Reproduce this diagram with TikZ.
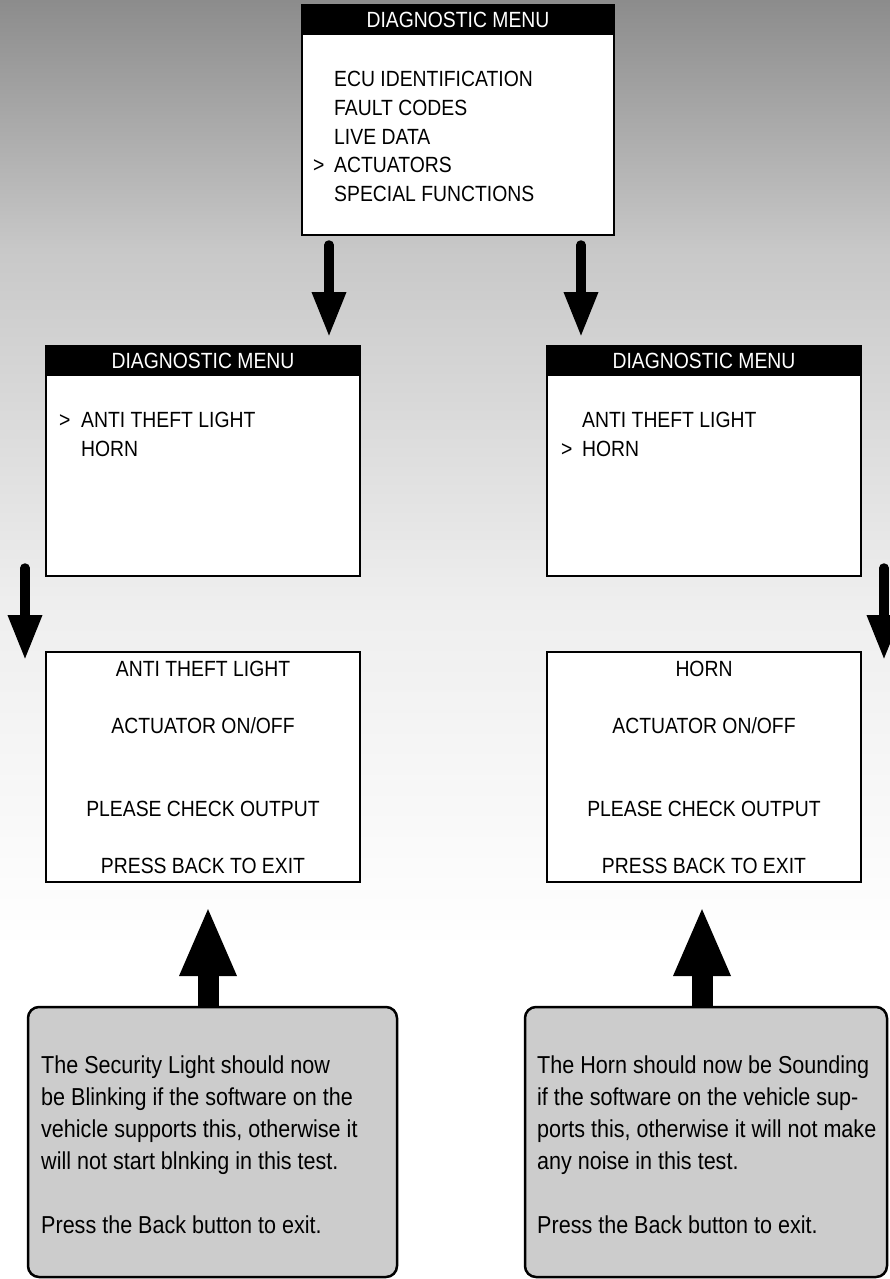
\documentclass[tikz,border=0pt]{standalone}
\usepackage{fontspec}
\setmainfont{Liberation Sans}[FakeStretch=0.88]
\usetikzlibrary{arrows.meta, calc}

\definecolor{bgA}{HTML}{8C8C8C}
\definecolor{bgB}{HTML}{C8C8C8}
\definecolor{bgC}{HTML}{EEEEEE}
\definecolor{notegray}{HTML}{CCCCCC}

\newcommand{\menufont}{\fontsize{22}{28.5}\selectfont}
\newcommand{\notefont}{\fontsize{24.5}{32}\selectfont}

\tikzset{
  screen/.style={draw, line width=2.5pt, fill=white, anchor=north west, inner sep=0pt, outer sep=0pt, minimum width=314pt, minimum height=230pt},
  titlebar/.style={fill=black, text=white, anchor=north, inner sep=0pt, outer sep=0pt, minimum width=314pt, minimum height=30pt, font=\menufont},
  menuline/.style={anchor=base west, inner sep=0pt, font=\menufont},
  centreline/.style={anchor=base, inner sep=0pt, font=\menufont},
  note/.style={draw, line width=2.5pt, fill=notegray, rounded corners=11pt, anchor=north west, inner sep=0pt, outer sep=0pt, minimum height=270pt},
  notetext/.style={anchor=north west, inner sep=0pt, align=left, font=\notefont},
  downarrow/.style={line width=9.5pt, line cap=round, -{Triangle[width=32pt,length=45pt]}},
  uparrow/.style={line width=21pt, -{Triangle[width=52pt,length=70pt]}},
}

\begin{document}
\begin{tikzpicture}[x=1pt, y=-1pt]
  \useasboundingbox (0,0) rectangle (890,1279);
  \clip (0,0) rectangle (890,1279);
  % background
  \shade[top color=bgA, bottom color=bgB] (0,0) rectangle (890,250);
  \shade[top color=bgB, bottom color=bgC] (0,249) rectangle (890,600);
  \shade[top color=bgC, bottom color=white] (0,599) rectangle (890,950);
  \fill[white] (0,949) rectangle (890,1279);

  % main menu
  \node[screen, minimum width=312pt] (menu) at (302,5) {};
  \node[titlebar, minimum width=312pt] (menutitle) at (menu.north) {DIAGNOSTIC MENU};
  \foreach \entry [count=\i] in {ECU IDENTIFICATION, FAULT CODES, LIVE DATA, ACTUATORS, SPECIAL FUNCTIONS}
    \node[menuline] (item\i) at ($(menu.north west)+(32,53.5+28.5*\i)$) {\entry};
  \node[menuline] (cursor) at ($(item4.base west)+(-21,0)$) {>};

  % actuator menus
  \node[screen] (selA) at (46,346) {};
  \node[titlebar] (selAtitle) at (selA.north) {DIAGNOSTIC MENU};
  \node[menuline] (selAlight) at ($(selA.north west)+(35,81)$) {ANTI THEFT LIGHT};
  \node[menuline] (selAhorn) at ($(selA.north west)+(35,110)$) {HORN};
  \node[menuline] (selAcursor) at ($(selAlight.base west)+(-22,0)$) {>};

  \node[screen] (selB) at (547,346) {};
  \node[titlebar] (selBtitle) at (selB.north) {DIAGNOSTIC MENU};
  \node[menuline] (selBlight) at ($(selB.north west)+(35,81)$) {ANTI THEFT LIGHT};
  \node[menuline] (selBhorn) at ($(selB.north west)+(35,110)$) {HORN};
  \node[menuline] (selBcursor) at ($(selBhorn.base west)+(-21,0)$) {>};

  % test screens
  \node[screen] (resA) at (46,652) {};
  \node[centreline] (resAname) at ($(resA.north)+(0,24)$) {ANTI THEFT LIGHT};
  \node[centreline] (resAmode) at ($(resA.north)+(0,81)$) {ACTUATOR ON/OFF};
  \node[centreline] (resAcheck) at ($(resA.north)+(0,164)$) {PLEASE CHECK OUTPUT};
  \node[centreline] (resAback) at ($(resA.north)+(0,221)$) {PRESS BACK TO EXIT};

  \node[screen] (resB) at (547,652) {};
  \node[centreline] (resBname) at ($(resB.north)+(0,24)$) {HORN};
  \node[centreline] (resBmode) at ($(resB.north)+(0,81)$) {ACTUATOR ON/OFF};
  \node[centreline] (resBcheck) at ($(resB.north)+(0,164)$) {PLEASE CHECK OUTPUT};
  \node[centreline] (resBback) at ($(resB.north)+(0,221)$) {PRESS BACK TO EXIT};

  % flow arrows
  \draw[downarrow] ($(menu.south west)+(27,10)$) -- ($(selA.north west)+(283,-9)$);
  \draw[downarrow] ($(menu.south east)+(-33,10)$) -- ($(selB.north west)+(34,-9)$);
  \draw[downarrow] ($(selA.south west)+(-21,-8)$) -- ($(resA.north west)+(-21,8)$);
  \draw[downarrow] ($(selB.south east)+(23,-8)$) -- ($(resB.north east)+(23,8)$);

  % notes
  \draw[uparrow] ($(resA.south west)+(162,124)$) -- ($(resA.south west)+(162,24)$);
  \draw[uparrow] ($(resB.south west)+(155,124)$) -- ($(resB.south west)+(155,24)$);
  \node[note, minimum width=369pt] (noteA) at (28,1007) {};
  \node[note, minimum width=362pt] (noteB) at (525,1007) {};
  \node[notetext] (noteAtext) at ($(noteA.north west)+(13,48.5)$)
    {The Security Light should now\\be Blinking if the software on the\\vehicle supports this, otherwise it\\will not start blnking in this test.\\[32pt]Press the Back button to exit.};
  \node[notetext] (noteBtext) at ($(noteB.north west)+(12,48.5)$)
    {The Horn should now be Sounding\\if the software on the vehicle sup-\\ports this, otherwise it will not make\\any noise in this test.\\[32pt]Press the Back button to exit.};
\end{tikzpicture}
\end{document}
